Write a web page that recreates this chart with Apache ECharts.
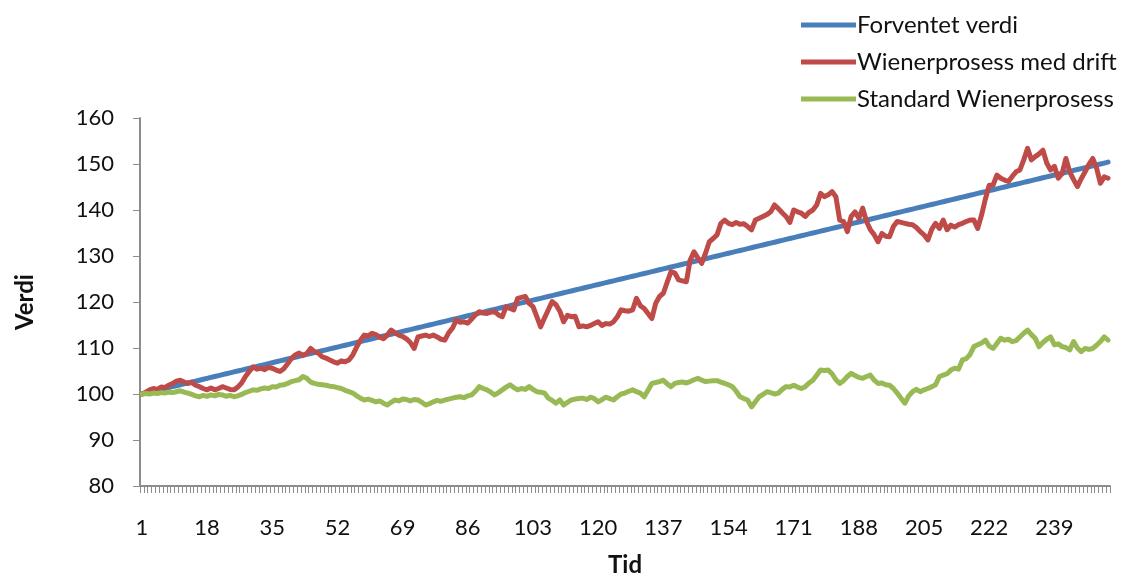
<!DOCTYPE html>
<html>
<head>
<meta charset="utf-8">
<script src="https://cdn.jsdelivr.net/npm/echarts@6/dist/echarts.min.js"></script>
<style>
  html, body { margin: 0; padding: 0; background: #ffffff; }
  #chart { width: 1122px; height: 576px; }
</style>
</head>
<body>
<div id="chart"></div>
<script>
// Time steps 1..253
const steps = [
  1,2,3,4,5,6,7,8,9,10,11,12,13,14,15,16,17,18,19,20,21,22,23,24,25,26,27,28,29,30,
  31,32,33,34,35,36,37,38,39,40,41,42,43,44,45,46,47,48,49,50,51,52,53,54,55,56,57,58,59,60,
  61,62,63,64,65,66,67,68,69,70,71,72,73,74,75,76,77,78,79,80,81,82,83,84,85,86,87,88,89,90,
  91,92,93,94,95,96,97,98,99,100,101,102,103,104,105,106,107,108,109,110,111,112,113,114,115,116,117,118,119,120,
  121,122,123,124,125,126,127,128,129,130,131,132,133,134,135,136,137,138,139,140,141,142,143,144,145,146,147,148,149,150,
  151,152,153,154,155,156,157,158,159,160,161,162,163,164,165,166,167,168,169,170,171,172,173,174,175,176,177,178,179,180,
  181,182,183,184,185,186,187,188,189,190,191,192,193,194,195,196,197,198,199,200,201,202,203,204,205,206,207,208,209,210,
  211,212,213,214,215,216,217,218,219,220,221,222,223,224,225,226,227,228,229,230,231,232,233,234,235,236,237,238,239,240,
  241,242,243,244,245,246,247,248,249,250,251,252,253
];

// Forventet verdi (expected value)
const expected = [
  100.0,100.2,100.4,100.6,100.8,101.0,101.2,101.4,101.6,101.8,102.0,102.2,102.4,102.6,102.8,103.0,103.2,103.4,103.6,103.8,
  104.0,104.2,104.4,104.6,104.8,105.0,105.2,105.4,105.6,105.8,106.0,106.2,106.4,106.6,106.8,107.0,107.2,107.4,107.6,107.8,
  108.0,108.2,108.4,108.6,108.8,109.0,109.2,109.4,109.6,109.8,110.0,110.2,110.4,110.6,110.8,111.0,111.2,111.4,111.6,111.8,
  112.0,112.2,112.4,112.6,112.8,113.0,113.2,113.4,113.6,113.8,114.0,114.2,114.4,114.6,114.8,115.0,115.2,115.4,115.6,115.8,
  116.0,116.2,116.4,116.6,116.8,117.0,117.2,117.4,117.6,117.8,118.0,118.2,118.4,118.6,118.8,119.0,119.2,119.4,119.6,119.8,
  120.0,120.2,120.4,120.6,120.8,121.0,121.2,121.4,121.6,121.8,122.0,122.2,122.4,122.6,122.8,123.0,123.2,123.4,123.6,123.8,
  124.0,124.2,124.4,124.6,124.8,125.0,125.2,125.4,125.6,125.8,126.0,126.2,126.4,126.6,126.8,127.0,127.2,127.4,127.6,127.8,
  128.0,128.2,128.4,128.6,128.8,129.0,129.2,129.4,129.6,129.8,130.0,130.2,130.4,130.6,130.8,131.0,131.2,131.4,131.6,131.8,
  132.0,132.2,132.4,132.6,132.8,133.0,133.2,133.4,133.6,133.8,134.0,134.2,134.4,134.6,134.8,135.0,135.2,135.4,135.6,135.8,
  136.0,136.2,136.4,136.6,136.8,137.0,137.2,137.4,137.6,137.8,138.0,138.2,138.4,138.6,138.8,139.0,139.2,139.4,139.6,139.8,
  140.0,140.2,140.4,140.6,140.8,141.0,141.2,141.4,141.6,141.8,142.0,142.2,142.4,142.6,142.8,143.0,143.2,143.4,143.6,143.8,
  144.0,144.2,144.4,144.6,144.8,145.0,145.2,145.4,145.6,145.8,146.0,146.2,146.4,146.6,146.8,147.0,147.2,147.4,147.6,147.8,
  148.0,148.2,148.4,148.6,148.8,149.0,149.2,149.4,149.6,149.8,150.0,150.2,150.4
];

// Wienerprosess med drift
const withDrift = [
  100.0,100.4,100.9,101.2,101.0,101.5,101.4,101.9,102.3,102.8,103.0,102.6,102.3,102.5,101.9,101.6,101.2,100.9,101.3,100.9,
  101.2,101.6,101.3,101.0,100.9,101.5,102.4,103.8,104.9,105.9,105.4,105.6,105.3,105.8,105.6,105.2,104.9,105.5,106.6,107.7,
  108.5,108.9,108.4,108.8,109.9,109.2,108.9,108.1,107.8,107.4,107.0,106.7,107.2,107.0,107.4,108.5,110.2,111.7,112.8,112.6,
  113.2,112.9,112.4,112.0,112.8,113.9,113.3,112.8,112.5,112.0,111.2,109.9,112.4,112.6,112.8,112.5,112.8,112.4,111.9,111.7,
  113.3,114.3,116.1,115.6,115.7,115.4,116.3,117.2,117.9,117.6,117.5,117.8,117.9,117.2,116.8,119.0,118.6,118.3,120.8,121.0,
  121.2,119.7,119.0,116.8,114.6,116.5,118.3,120.1,119.4,118.0,115.7,117.1,116.8,116.9,114.6,114.8,114.6,114.9,115.3,115.7,
  114.9,115.3,115.2,115.7,116.8,118.3,118.1,118.0,118.3,120.8,119.2,118.6,117.5,116.4,119.7,121.2,121.9,124.3,126.6,126.3,
  124.8,124.6,124.4,129.1,130.9,129.6,128.4,130.6,133.1,133.8,134.6,137.1,137.8,137.1,136.8,137.3,136.9,137.0,136.4,135.7,
  137.8,138.2,138.6,139.0,139.6,141.1,140.3,139.4,138.6,137.3,140.0,139.6,139.3,138.6,139.5,140.0,141.1,143.6,142.9,143.3,
  144.0,142.9,137.8,137.5,135.3,138.6,139.6,138.2,140.4,137.5,135.7,134.6,133.1,134.9,134.3,134.2,136.4,137.5,137.3,137.1,
  136.9,136.8,136.2,135.3,134.6,133.5,135.8,137.1,136.0,137.8,135.7,136.7,136.3,136.8,137.1,137.5,137.8,137.8,136.0,138.9,
  142.4,145.4,145.4,147.6,146.9,146.5,146.2,147.3,148.3,148.7,150.9,153.4,150.9,151.6,152.2,153.0,150.2,148.7,149.5,146.9,
  147.9,151.2,148.3,146.6,145.1,146.8,148.3,149.9,151.2,149.1,145.8,147.2,146.9
];

// Standard Wienerprosess
const standard = [
  100.0,100.1,100.0,100.2,100.1,100.3,100.2,100.4,100.3,100.5,100.7,100.4,100.2,99.9,99.6,99.4,99.7,99.5,99.8,99.6,
  99.9,99.8,99.5,99.7,99.4,99.6,99.9,100.3,100.6,100.9,100.8,101.1,101.3,101.2,101.6,101.5,101.9,102.0,102.3,102.7,
  102.9,103.1,103.8,103.4,102.6,102.3,102.1,102.0,101.9,101.7,101.6,101.4,101.2,100.8,100.5,100.2,99.6,99.1,98.7,98.9,
  98.6,98.3,98.5,98.0,97.6,98.2,98.7,98.5,98.9,98.8,98.5,98.8,98.7,98.2,97.6,97.9,98.3,98.6,98.4,98.7,
  98.9,99.1,99.3,99.4,99.2,99.6,99.8,100.6,101.6,101.2,100.9,100.4,99.8,100.3,100.9,101.5,102.0,101.4,100.9,101.2,
  101.0,101.6,101.0,100.5,100.4,100.2,99.1,98.6,98.0,98.7,97.6,98.2,98.7,98.9,99.0,99.1,98.8,99.3,99.0,98.3,
  98.8,99.3,99.0,98.7,99.4,100.0,100.2,100.6,100.9,100.5,100.2,99.4,100.8,102.3,102.5,102.7,103.0,102.2,101.6,102.3,
  102.5,102.6,102.4,102.7,103.1,103.4,103.0,102.7,102.8,102.9,102.9,102.6,102.3,102.0,101.6,100.6,99.4,99.0,98.7,97.2,
  98.3,99.4,99.9,100.5,100.3,100.0,100.2,101.0,101.6,101.5,101.9,101.5,101.2,101.6,102.4,103.0,104.1,105.2,105.1,105.2,
  104.4,103.1,102.3,102.9,103.8,104.5,104.0,103.6,103.4,103.8,104.1,103.0,102.3,102.4,102.0,101.9,101.2,100.2,99.1,98.0,
  99.6,100.5,101.0,100.5,100.9,101.2,101.6,102.0,103.8,104.1,104.4,105.2,105.6,105.4,107.4,107.7,108.6,110.3,110.7,111.1,
  111.7,110.4,109.9,111.0,112.1,111.7,111.9,111.4,111.6,112.4,113.2,113.9,112.9,112.1,110.3,111.2,111.9,112.4,110.7,110.9,
  110.3,110.1,109.6,111.4,110.0,109.2,109.9,109.7,109.9,110.6,111.4,112.4,111.7
];

const seriesNames = ['Forventet verdi', 'Wienerprosess med drift', 'Standard Wienerprosess'];
const seriesColors = ['#4a7ebb', '#be4b48', '#98b954'];

const FONT = 'Lato, "Open Sans", sans-serif';

const chart = echarts.init(document.getElementById('chart'), null, { renderer: 'canvas' });

function lineSeries(name, data, color) {
  return {
    name: name,
    type: 'line',
    data: data,
    showSymbol: false,
    symbol: 'none',
    lineStyle: { width: 5, color: color, cap: 'round', join: 'round' },
    itemStyle: { color: color },
    animation: false
  };
}

chart.setOption({
  animation: false,
  backgroundColor: '#ffffff',
  textStyle: { fontFamily: FONT },
  legend: {
    orient: 'vertical',
    left: 796,
    top: 8,
    itemWidth: 55,
    itemHeight: 5,
    itemGap: 13,
    icon: 'rect',
    textStyle: { fontFamily: FONT, fontSize: 24, color: '#111111', padding: [0, 0, 0, -4] },
    data: seriesNames
  },
  grid: { left: 140, right: 12, top: 118, bottom: 90, containLabel: false, outerBoundsMode: 'none' },
  xAxis: {
    type: 'category',
    data: steps,
    boundaryGap: true,
    name: 'Tid',
    nameLocation: 'middle',
    nameGap: 67,
    nameTextStyle: { fontFamily: FONT, fontSize: 24, fontWeight: 'bold', color: '#111111' },
    axisLine: { lineStyle: { color: '#8c8c8c', width: 2 } },
    axisTick: { show: true, interval: 0, length: 7, lineStyle: { color: '#8c8c8c', width: 1 } },
    axisLabel: { interval: 16, fontFamily: FONT, fontSize: 22, color: '#111111', margin: 31 },
    splitLine: { show: false }
  },
  yAxis: {
    type: 'value',
    min: 80,
    max: 160,
    interval: 10,
    name: 'Verdi',
    nameLocation: 'middle',
    nameGap: 103,
    nameTextStyle: { fontFamily: FONT, fontSize: 24, fontWeight: 'bold', color: '#111111' },
    axisLine: { show: true, lineStyle: { color: '#8c8c8c', width: 2 } },
    axisTick: { show: true, length: 7, lineStyle: { color: '#8c8c8c', width: 1 } },
    axisLabel: { fontFamily: FONT, fontSize: 22, color: '#111111', margin: 26 },
    splitLine: { show: false }
  },
  series: [
    lineSeries(seriesNames[0], expected, seriesColors[0]),
    lineSeries(seriesNames[1], withDrift, seriesColors[1]),
    lineSeries(seriesNames[2], standard, seriesColors[2])
  ]
});
</script>
</body>
</html>
